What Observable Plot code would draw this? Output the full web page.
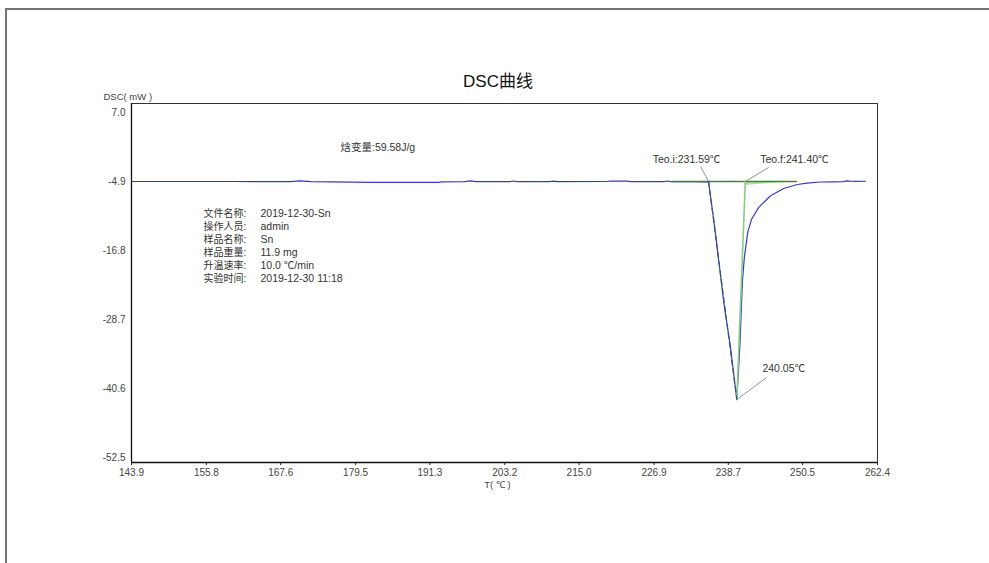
<!DOCTYPE html>
<html>
<head>
<meta charset="utf-8">
<script src="https://cdn.jsdelivr.net/npm/d3@7"></script>
<script src="https://cdn.jsdelivr.net/npm/@observablehq/plot@0.6"></script>
<style>
  html, body { margin: 0; padding: 0; background: #fff; }
  body { position: relative; width: 989px; height: 563px; overflow: hidden;
         font-family: "Liberation Sans", "Noto Sans CJK SC", sans-serif; }
  #frame { position: absolute; left: 5px; top: 8px; width: 1100px; height: 700px;
           border: 2px solid #76766e; box-sizing: border-box; }
  #title { position: absolute; left: 0; top: 0; width: 996px; height: 88px; box-sizing: border-box;
           padding-top: 67px; text-align: center; font-size: 17px; color: #111;
           font-family: "Liberation Sans", "Noto Sans CJK SC", sans-serif; }
  #chart { position: absolute; left: 0; top: 88px; }
</style>
</head>
<body>
<div id="frame"></div>
<div id="title">DSC曲线</div>
<div id="chart"></div>
<script>
// ---- data ----
const temps = [143.9, 160.0, 169.2, 170.6, 172.4, 182.4, 192.6, 193.2, 196.8, 197.7, 198.6,
  204.0, 204.6, 205.2, 210.3, 210.9, 211.5, 219.3, 219.9, 222.6, 223.2, 228.5, 229.0, 229.6,
  233.0, 235.0, 235.57, 236.4, 238.0, 239.05, 240.05, 240.53, 240.80, 240.95, 241.25, 241.8,
  242.4, 243.5, 245.4, 247.5, 249.65, 251.2, 253.3, 255.5, 257.0, 257.5, 258.0, 259.0, 260.5];
const dsc = [-4.90, -4.90, -4.92, -4.78, -4.92, -5.05, -5.05, -4.95, -4.93, -4.80, -4.93,
  -4.92, -4.82, -4.92, -4.92, -4.83, -4.92, -4.90, -4.82, -4.84, -4.92, -4.92, -4.82, -4.92,
  -4.92, -4.95, -5.07, -11.6, -25.9, -33.5, -42.5, -33.5, -26.0, -22.0, -18.0, -13.6,
  -11.4, -9.4, -7.35, -6.11, -5.42, -5.19, -4.99, -4.95, -4.92, -4.80, -4.85, -4.88, -4.86];

const xTicks = [143.9, 155.8, 167.6, 179.5, 191.3, 203.2, 215.0, 226.9, 238.7, 250.5, 262.4];
const yTicks = [7.0, -4.9, -16.8, -28.7, -40.6, -52.5];

const onsetT = 235.57, endT = 241.40, peakT = 240.05, peakV = -42.5, baseV = -4.9;
const greenBaseline = [{t: 229.8, v: baseV}, {t: 249.5, v: baseV}];
const leftTangent = [{t: onsetT, v: baseV}, {t: peakT, v: peakV}];
const rightTangent = [{t: endT, v: baseV}, {t: peakT, v: peakV}];
const shade = [{t: 241.4, lo: -5.6, hi: baseV}, {t: 243.3, lo: -5.4, hi: baseV},
               {t: 246.0, lo: -5.2, hi: baseV}, {t: 249.5, lo: -4.95, hi: baseV}];

const annotations = [
  {t: 232.06, v: -1.11, text: "Teo.i:231.59℃", lt: 234.3, lv: -2.31, pt: onsetT, pv: baseV},
  {t: 249.2, v: -1.11, text: "Teo.f:241.40℃", lt: 245.1, lv: -2.49, pt: endT, pv: baseV},
  {t: 247.5, v: -37.15, text: "240.05℃", lt: 244.8, lv: -38.7, pt: peakT, pv: peakV}
];
const enthalpy = [{t: 177.1, v: 0.93, text: "焓变量:59.58J/g"}];
const infoLabels = ["文件名称:", "操作人员:", "样品名称:", "样品重量:", "升温速率:", "实验时间:"];
const infoValues = ["2019-12-30-Sn", "admin", "Sn", "11.9 mg", "10.0 ℃/min", "2019-12-30 11:18"];

const curve = temps.map((t, i) => ({t, v: dsc[i]}));

const fontMix = "'Liberation Sans', 'Noto Sans CJK SC', sans-serif";
const rowStep = 13;

const infoMarks = infoLabels.flatMap((lab, i) => [
  Plot.text([lab], {frameAnchor: "top-left", dx: 72, dy: 106 + i * rowStep, textAnchor: "start",
    fontFamily: fontMix, fontSize: 10, fill: "#333"}),
  Plot.text([infoValues[i]], {frameAnchor: "top-left", dx: 129, dy: 106 + i * rowStep, textAnchor: "start",
    fontFamily: fontMix, fontSize: 10.5, fill: "#333"})
]);

const chart = Plot.plot({
  width: 989,
  height: 475,
  marginLeft: 131,
  marginRight: 112,
  marginTop: 15,
  marginBottom: 101,
  style: {fontFamily: "'Liberation Sans', Arial, sans-serif", fontSize: "10px", color: "#444", background: "transparent"},
  x: {domain: [143.9, 262.4], ticks: xTicks, tickFormat: d => d.toFixed(1), tickSize: 3, tickPadding: 3, label: null},
  y: {domain: [-53.36, 8.55], ticks: yTicks, tickFormat: d => d.toFixed(1), tickSize: 0, tickPadding: 6, label: null},
  marks: [
    Plot.frame({stroke: "#333", strokeWidth: 1}),
    Plot.areaY(shade, {x: "t", y1: "lo", y2: "hi", fill: "#a8dca0", fillOpacity: 0.9}),
    Plot.line(curve, {x: "t", y: "v", stroke: "#3838c8", strokeWidth: 1.2}),
    Plot.line(greenBaseline, {x: "t", y: "v", stroke: "#2e8b2e", strokeWidth: 1.6}),
    Plot.line(rightTangent, {x: "t", y: "v", stroke: "#86cf80", strokeWidth: 1.6}),
    Plot.line(leftTangent, {x: "t", y: "v", stroke: "#2f5a66", strokeWidth: 1.2, strokeDasharray: "5,4"}),
    Plot.link(annotations, {x1: "pt", y1: "pv", x2: "lt", y2: "lv", stroke: "#888", strokeWidth: 0.9}),
    Plot.text(annotations, {x: "t", y: "v", text: "text", fontFamily: fontMix, fontSize: 10.5, fill: "#333"}),
    Plot.text(enthalpy, {x: "t", y: "v", text: "text", textAnchor: "start", fontFamily: fontMix, fontSize: 10.5, fill: "#333"}),
    ...infoMarks,
    Plot.text(["DSC( mW )"], {frameAnchor: "top-left", dx: -28, dy: -10, textAnchor: "start", fontSize: 9.5, fill: "#444"}),
    Plot.text(["T( ℃ )"], {frameAnchor: "bottom", dx: -7, dy: 25, fontSize: 9.5, fill: "#444"}),
    Plot.axisX({ticks: xTicks, tickFormat: d => d.toFixed(1), tickSize: 3, tickPadding: 3, label: null, stroke: "#222"}),
    Plot.axisY({ticks: yTicks, tickFormat: d => d.toFixed(1), tickSize: 0, tickPadding: 6, label: null}),
    Plot.ruleX([143.9], {stroke: "#111", strokeWidth: 1.3}),
    Plot.ruleY([-53.36], {stroke: "#111", strokeWidth: 1.3})
  ]
});
document.getElementById("chart").appendChild(chart);
</script>
</body>
</html>
